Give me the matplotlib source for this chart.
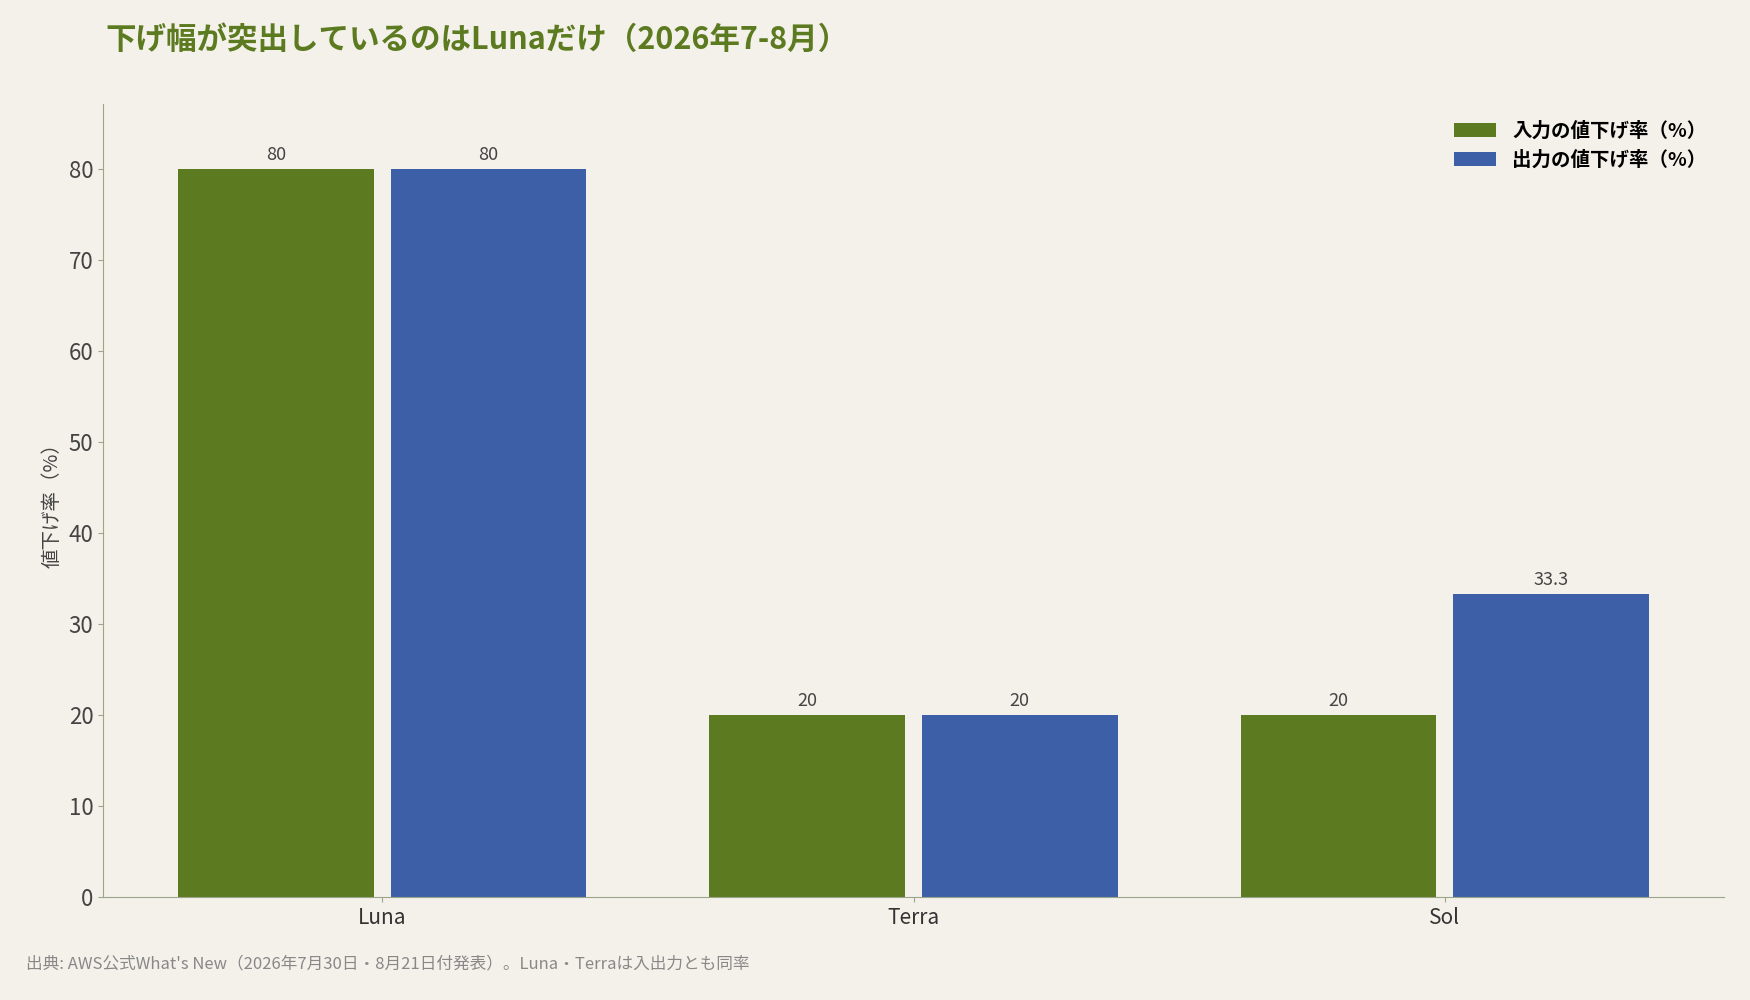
import matplotlib
matplotlib.use("Agg")
import matplotlib.pyplot as plt
import numpy as np

plt.rcParams['font.family'] = ['Noto Sans CJK JP', 'DejaVu Sans']

categories = ["Luna", "Terra", "Sol"]
input_cut = [80, 20, 20]
output_cut = [80, 20, 33.3]
labels_in = ["80", "20", "20"]
labels_out = ["80", "20", "33.3"]
series_names = ["入力の値下げ率（%）", "出力の値下げ率（%）"]

bg = "#f4f1ea"
green = "#5c7a1f"
blue = "#3d5fa8"
spine = "#9aa58c"

fig = plt.figure(figsize=(17.5, 10), dpi=100, facecolor=bg)
ax = fig.add_axes([0.059, 0.103, 0.926, 0.793], facecolor=bg)
x = np.arange(len(categories))
w = 0.368
b1 = ax.bar(x - 0.2, input_cut, w, color=green, label=series_names[0])
b2 = ax.bar(x + 0.2, output_cut, w, color=blue, label=series_names[1])
for bars, labs in ((b1, labels_in), (b2, labels_out)):
    for r, l in zip(bars, labs):
        ax.text(r.get_x() + r.get_width() / 2, r.get_height() + 0.5, l,
                ha="center", va="bottom", fontsize=13, color="#444444")

ax.set_xlim(-0.525, 2.525)
ax.set_ylim(0, 87.1)
ax.set_yticks(range(0, 81, 10))
ax.set_xticks(x)
ax.set_xticklabels(categories, fontsize=15, color="#333333")
ax.tick_params(axis='y', labelsize=16, colors="#444444")
ax.tick_params(axis='x', colors=spine)
for lab in ax.get_xticklabels():
    lab.set_color("#333333")
for lab in ax.get_yticklabels():
    lab.set_color("#444444")
ax.tick_params(axis='y', color=spine)
for s in ("top", "right"):
    ax.spines[s].set_visible(False)
for s in ("left", "bottom"):
    ax.spines[s].set_color(spine)
ax.set_ylabel("値下げ率（%）", fontsize=14, color="#444444")

leg = ax.legend(loc="upper right", frameon=False, fontsize=14, handlelength=2.2)
for t in leg.get_texts():
    t.set_fontweight("bold")

fig.text(0.06, 0.96, "下げ幅が突出しているのはLunaだけ（2026年7-8月）", fontsize=22,
         fontweight="bold", color=green, va="center")
fig.text(0.015, 0.036, "出典: AWS公式What's New（2026年7月30日・8月21日付発表）。Luna・Terraは入出力とも同率",
         fontsize=12, color="#888888", va="center")

fig.savefig("out.png", dpi=100, facecolor=bg)
